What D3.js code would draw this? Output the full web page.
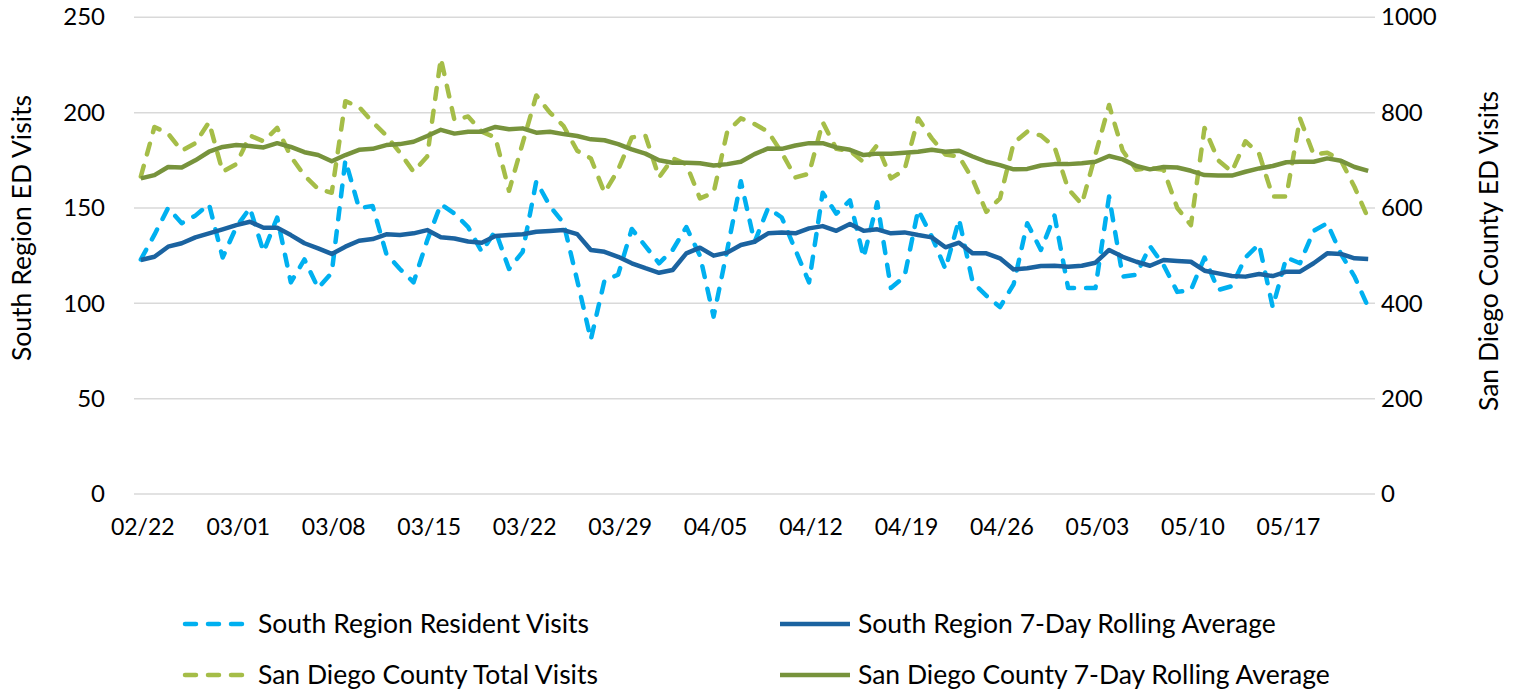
<!DOCTYPE html>
<html lang="en">
<head>
<meta charset="UTF-8">
<title>South Region ED Visits</title>
<script src="https://d3js.org/d3.v7.min.js"></script>
<style>
  body { margin: 0; background: #fff; }
  text { font-family: Lato, "Noto Sans", sans-serif; fill: #000; }
</style>
</head>
<body>
<svg id="chart" width="1514" height="692"></svg>
<script>
// categories: one point per day, 02/22 .. 05/23
var days = d3.timeDay.range(new Date(2021, 1, 22), new Date(2021, 4, 24));
var tickLabels = ["02/22","03/01","03/08","03/15","03/22","03/29","04/05","04/12","04/19","04/26","05/03","05/10","05/17"];

// South Region resident visits (left axis)
var southVisits = [123,136,150,142,146,152,124,140,150,127,
  145,111,123,108,116,175,150,151,126,118,
  111,133,152,147,140,127,138,118,127,164,
  151,142,112,81,112,115,139,130,121,128,
  140,125,93,128,164,132,150,145,128,111,
  158,147,154,124,153,108,114,149,135,118,
  144,111,104,98,110,142,128,146,108,108,
  108,156,114,115,130,120,106,107,124,107,
  109,124,131,98,124,121,138,142,126,114,98];

var southAvg = [122.7,124.4,129.7,131.5,134.6,136.7,138.8,141,142.8,139.6,
  139.6,135.8,131.5,128.8,125.9,129.7,132.8,133.7,136.2,135.8,
  136.7,138.4,134.6,134,132.4,131.8,135.3,135.8,136.2,137.5,
  137.9,138.4,136.3,128,127,124.4,121,118.4,116,117.5,
  126.2,129.2,125,126.6,130.6,132.3,136.7,137.2,136.7,139.3,
  140.5,138,141.6,138,138.8,136.7,137.2,135.8,134.6,129.4,
  131.8,126.2,126.2,123.6,117.8,118.4,119.6,119.7,119.2,119.7,
  121.3,128,124.4,121.8,119.7,122.7,122.2,121.8,117.1,115.7,
  114.3,114,115.4,114.3,116.6,116.6,121,126.2,125.9,123.6,123.2];

// San Diego County total visits (right axis)
var countyVisits = [666,770,756,720,736,780,676,692,752,740,
  768,708,668,640,632,824,812,780,752,716,
  676,708,914,784,792,760,748,636,736,836,
  800,772,720,704,632,680,748,752,664,704,
  692,620,632,760,788,776,760,716,664,672,
  780,724,720,696,732,662,680,788,746,712,
  708,660,592,620,736,760,752,728,640,608,
  712,816,720,680,684,680,600,564,768,700,
  676,740,714,624,624,788,712,716,700,644,578];

var countyAvg = [662,669,686,685,700,718,728,732,730,727,
  736,728,717,711,698,711,722,724,732,734,
  739,751,764,756,760,760,770,765,767,758,
  760,755,751,744,742,734,723,714,700,695,
  695,694,689,692,697,713,725,724,731,736,
  736,727,722,711,714,714,716,718,722,718,
  720,708,697,690,681,682,689,692,692,694,
  697,709,702,688,681,686,685,678,669,668,
  668,676,683,688,696,697,697,704,699,686,678];

var leftTicks = [0, 50, 100, 150, 200, 250];
var rightTicks = [0, 200, 400, 600, 800, 1000];

var series = [
  { name: "South Region Resident Visits", values: southVisits, axis: "left", color: "#00B0F0", dash: "11,12" },
  { name: "South Region 7-Day Rolling Average", values: southAvg, axis: "left", color: "#1B63A0", dash: null },
  { name: "San Diego County Total Visits", values: countyVisits, axis: "right", color: "#A5BD48", dash: "11,12" },
  { name: "San Diego County 7-Day Rolling Average", values: countyAvg, axis: "right", color: "#77933C", dash: null }
];

var svg = d3.select("#chart");
var plotLeft = 134, plotRight = 1375, plotTop = 17.3, plotBottom = 494;

var x = d3.scalePoint().domain(d3.range(days.length)).range([plotLeft, plotRight]).padding(0.5);
var yL = d3.scaleLinear().domain([0, 250]).range([plotBottom, plotTop]);
var yR = d3.scaleLinear().domain([0, 1000]).range([plotBottom, plotTop]);
var fmt = d3.timeFormat("%m/%d");

// gridlines
svg.append("g").selectAll("line")
  .data(leftTicks)
  .enter().append("line")
    .attr("x1", plotLeft).attr("x2", plotRight)
    .attr("y1", function(d){ return yL(d) })
    .attr("y2", function(d){ return yL(d) })
    .attr("stroke", "#d9d9d9")
    .attr("stroke-width", 1.5);

// left axis
var gL = svg.append("g").attr("transform", "translate(" + (plotLeft - 8) + ",0)")
  .call(d3.axisLeft(yL).tickValues(leftTicks).tickSize(0).tickPadding(21));
gL.select(".domain").remove();
gL.selectAll("text").style("font-size", "24px").style("font-family", "Lato, sans-serif").attr("fill", "#000");

// right axis
var gR = svg.append("g").attr("transform", "translate(" + plotRight + ",0)")
  .call(d3.axisRight(yR).tickValues(rightTicks).tickFormat(d3.format("d")).tickSize(0).tickPadding(6));
gR.select(".domain").remove();
gR.selectAll("text").style("font-size", "24px").style("font-family", "Lato, sans-serif").attr("fill", "#000");

// x labels
var labelIdx = days.map(function(d, i){ return i }).filter(function(i){ return tickLabels.indexOf(fmt(days[i])) >= 0 });
svg.append("g").selectAll("text")
  .data(labelIdx)
  .enter().append("text")
    .attr("x", function(i){ return x(i) + 2 })
    .attr("y", 535)
    .attr("text-anchor", "middle")
    .style("font-size", "23px")
    .text(function(i){ return fmt(days[i]) });

// axis titles
svg.append("text")
  .attr("transform", "translate(31,228) rotate(-90)")
  .attr("text-anchor", "middle")
  .style("font-size", "26.5px")
  .text("South Region ED Visits");
svg.append("text")
  .attr("transform", "translate(1498,251) rotate(-90)")
  .attr("text-anchor", "middle")
  .style("font-size", "26.5px")
  .text("San Diego County ED Visits");

// lines
series.forEach(function(s) {
  var y = s.axis === "left" ? yL : yR;
  var line = d3.line()
    .x(function(d, i){ return x(i) })
    .y(function(d){ return y(d) });
  svg.append("path")
    .datum(s.values)
    .attr("d", line)
    .attr("fill", "none")
    .attr("stroke", s.color)
    .attr("stroke-width", 4.5)
    .attr("stroke-linejoin", "round")
    .attr("stroke-linecap", s.dash ? "round" : "butt")
    .attr("stroke-dasharray", s.dash);
});

// legend
var legendPos = [[182, 624], [780, 624], [182, 675], [780, 675]];
series.forEach(function(s, i) {
  var p = legendPos[i];
  var g = svg.append("g").attr("transform", "translate(" + p[0] + "," + p[1] + ")");
  g.append("line")
    .attr("x1", s.dash ? 3 : 0).attr("x2", s.dash ? 66 : 70)
    .attr("y1", 0).attr("y2", 0)
    .attr("stroke", s.color)
    .attr("stroke-width", 4.5)
    .attr("stroke-linecap", s.dash ? "round" : "butt")
    .attr("stroke-dasharray", s.dash);
  g.append("text")
    .attr("x", s.dash ? 76 : 78)
    .attr("y", 0)
    .attr("dy", "0.35em")
    .style("font-size", "26.5px")
    .text(s.name);
});
</script>
</body>
</html>
